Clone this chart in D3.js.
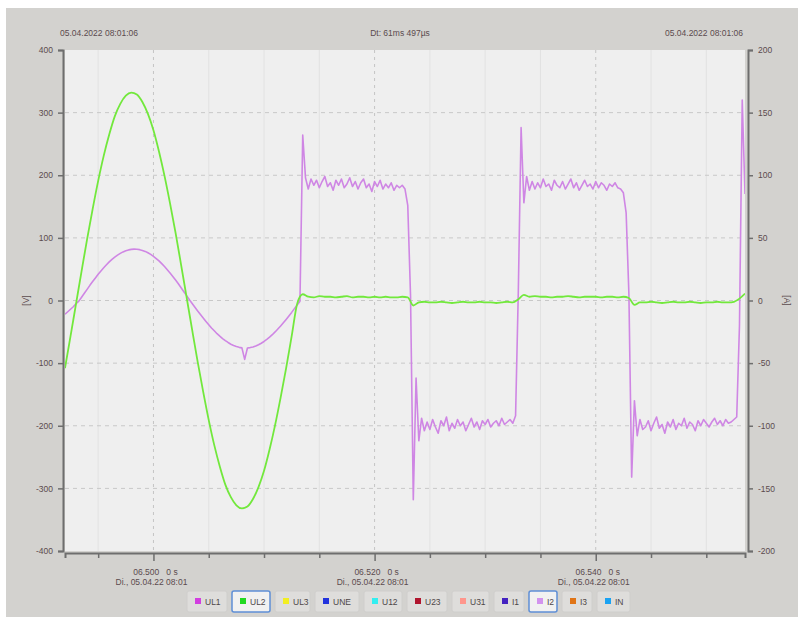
<!DOCTYPE html>
<html>
<head>
<meta charset="utf-8">
<script src="https://cdn.jsdelivr.net/npm/d3@7"></script>
<style>
  body { margin: 0; background: #fff; }
  text { font-family: "Liberation Sans", "DejaVu Sans", sans-serif; }
</style>
</head>
<body>
<svg></svg>
<script>
// recorder samples, times in ms (06.492 s ... 06.5535 s)
const sampleStart = 6492.0;
const ul2Step = 0.5;
const i2Step = 0.25;

// UL2 voltage [V], one value every 0.5 ms
const ul2Values = [
  -108, -57, -5, 47, 98, 146, 191, 231, 265, 294,
  314, 327, 332, 329, 317, 298, 272, 238, 199, 155,
  108, 57, 5, -47, -98, -146, -191, -231, -265, -294,
  -314, -327, -332, -329, -317, -298, -272, -238, -199, -155,
  -108, -57, -5, 10,
  6, 5, 7, 6, 6, 5, 6, 7, 5, 6, 6, 5, 6, 5, 6, 5, 5, 6,
  5, -8,
  -3, -2, -3, -3, -2, -3, -4, -3, -2, -3, -3, -2, -3, -3, -4, -3, -2, -3,
  2, 9,
  6, 7, 6, 6, 5, 6, 6, 7, 6, 5, 6, 6, 6, 5, 6, 6, 5, 6,
  4, -7,
  -3, -3, -2, -3, -4, -3, -2, -3, -3, -2, -3, -4, -3, -3, -2, -3, -3, -2,
  3, 11
];

// I2 current [A], one value every 0.25 ms
const i2Values = [
  -11, -9, -7, -5, -2.5, -0.5, 2.6, 5.8, 8.9, 12.1,
  15.1, 18.0, 20.9, 23.6, 26.1, 28.5, 30.8, 32.8, 34.6, 36.2,
  37.6, 38.8, 39.7, 40.4, 40.8, 41.0, 40.9, 40.6, 40.0, 39.2,
  38.1, 36.8, 35.3, 33.5, 31.6, 29.4, 27.1, 24.6, 22.0, 19.2,
  16.3, 13.3, 10.2, 7.0, 3.9, 0.6, -2.4, -5.4, -8.3, -11.2,
  -14.0, -16.7, -19.3, -21.9, -24.2, -26.5, -28.5, -30.4, -32.0, -33.5,
  -34.9, -36.0, -36.8, -37.4, -37.8, -47, -37.9, -37.6, -37.1, -36.3,
  -35.3, -34.1, -32.7, -31.1, -29.3, -27.3, -25.1, -22.8, -20.4, -17.8,
  -15.1, -12.3, -9.5, -6.5, -3.6, -0.6, 132, 98, 89, 97,
  92, 96, 90, 95, 99, 91, 94, 88, 96, 92,
  97, 90, 93, 98, 91, 95, 89, 94, 97, 90,
  93, 87, 95, 91, 96, 89, 93, 90, 94, 88,
  92, 90, 92, 89, 76, 4, -159, -62, -112, -94,
  -104, -97, -103, -95, -101, -106, -96, -100, -93, -104,
  -98, -102, -95, -100, -97, -104, -99, -94, -101, -97,
  -103, -96, -99, -95, -101, -98, -96, -100, -94, -99,
  -97, -95, -98, -92, 8, 138, 78, 99, 88, 95,
  89, 94, 90, 97, 91, 93, 88, 96, 92, 90,
  95, 89, 93, 97, 90, 94, 88, 92, 96, 91,
  93, 89, 95, 90, 94, 92, 88, 93, 91, 94,
  90, 89, 86, 70, 5, -141, -80, -108, -95, -103,
  -101, -96, -104, -98, -93, -102, -99, -106, -97, -101,
  -95, -103, -98, -100, -94, -102, -97, -99, -104, -96,
  -100, -95, -98, -101, -97, -94, -99, -96, -100, -95,
  -98, -97, -95, -93, -20, 160, 85
];

const leftTicks = [400, 300, 200, 100, 0, -100, -200, -300, -400];
const rightTicks = [200, 150, 100, 50, 0, -50, -100, -150, -200];
const xMajorTicks = [6500, 6520, 6540];
const xMajorLabels = ["06.500   0 s", "06.520   0 s", "06.540   0 s"];
const xDateLabel = "Di., 05.04.22 08:01";
const xMinorTicks = [6495, 6505, 6510, 6515, 6525, 6530, 6535, 6545, 6550];

const headerLeft = "05.04.2022 08:01:06";
const headerCenter = "Dt: 61ms 497µs";
const headerRight = "05.04.2022 08:01:06";

const channels = ["UL1", "UL2", "UL3", "UNE", "U12", "U23", "U31", "I1", "I2", "I3", "IN"];
const channelColors = ["#d23ee0", "#22d922", "#f2ee22", "#2233dd", "#33eef0", "#b0152e", "#ff968c", "#4422c0", "#d293ee", "#e07416", "#1aa2f2"];
const selectedChannels = ["UL2", "I2"];

// ---- layout
const W = 798, H = 617;
const L = 65, R = 745, T = 50, B = 551;

let svg = d3.select("svg")
  .attr("width", W)
  .attr("height", H);

svg.append("rect")
  .attr("x", 6).attr("y", 8)
  .attr("width", W - 6).attr("height", H - 8)
  .attr("fill", "#d3d2cf");

let x = d3.scaleLinear().domain([6492, 6553.5]).range([L, R]);
let yL = d3.scaleLinear().domain([-400, 400]).range([B, T]);
let yR = d3.scaleLinear().domain([-200, 200]).range([B, T]);

// plot background
svg.append("rect")
  .attr("x", L).attr("y", T)
  .attr("width", R - L).attr("height", B - T)
  .attr("fill", "#efefef");

// grid
let grid = svg.append("g").attr("id", "grid");
grid.selectAll("line.minor")
  .data(xMinorTicks)
  .enter().append("line")
  .attr("class", "minor")
  .attr("x1", d => x(d)).attr("x2", d => x(d))
  .attr("y1", T).attr("y2", B)
  .attr("stroke", "#e2e2e2")
  .attr("stroke-width", 1);
grid.selectAll("line.major")
  .data(xMajorTicks)
  .enter().append("line")
  .attr("class", "major")
  .attr("x1", d => x(d)).attr("x2", d => x(d))
  .attr("y1", T).attr("y2", B)
  .attr("stroke", "#c4c4c4")
  .attr("stroke-dasharray", "3,4");
grid.selectAll("line.h")
  .data(leftTicks.filter(d => d !== 400 && d !== -400))
  .enter().append("line")
  .attr("class", "h")
  .attr("x1", L).attr("x2", R)
  .attr("y1", d => yL(d)).attr("y2", d => yL(d))
  .attr("stroke", "#c8c8c8")
  .attr("stroke-dasharray", "4,4");

// traces
svg.append("clipPath").attr("id", "clip")
  .append("rect").attr("x", L).attr("y", T).attr("width", R - L).attr("height", B - T);

let i2Data = i2Values.map((v, i) => ({ t: sampleStart + i * i2Step, v: v }));
let ul2Data = ul2Values.map((v, i) => ({ t: sampleStart + i * ul2Step, v: v }));

let traces = svg.append("g").attr("clip-path", "url(#clip)");
traces.append("path")
  .datum(i2Data)
  .attr("d", d3.line().x(d => x(d.t)).y(d => yR(d.v)))
  .attr("fill", "none")
  .attr("stroke", "#cf86e4")
  .attr("stroke-width", 1.6)
  .attr("stroke-linejoin", "round");
traces.append("path")
  .datum(ul2Data)
  .attr("d", d3.line().curve(d3.curveMonotoneX).x(d => x(d.t)).y(d => yL(d.v)))
  .attr("fill", "none")
  .attr("stroke", "#72e83c")
  .attr("stroke-width", 1.8);

// axes
let axisColor = "#6e6e6e";
let labelColor = "#5b4b4e";

let leftAxis = svg.append("g")
  .attr("transform", `translate(${L - 2},0)`)
  .call(d3.axisLeft(yL).tickValues(leftTicks).tickSize(5).tickPadding(5).tickFormat(d => d));
let rightAxis = svg.append("g")
  .attr("transform", `translate(${R + 3},0)`)
  .call(d3.axisRight(yR).tickValues(rightTicks).tickSize(5).tickPadding(5).tickFormat(d => d));
let bottomAxis = svg.append("g")
  .attr("transform", `translate(0,${B + 2})`)
  .call(d3.axisBottom(x).tickValues(xMajorTicks.concat(xMinorTicks)).tickSize(5).tickFormat(""));

[leftAxis, rightAxis, bottomAxis].forEach(a => {
  a.select(".domain").attr("stroke", axisColor).attr("stroke-width", 2);
  a.selectAll(".tick line").attr("stroke", axisColor).attr("stroke-width", 1.5);
  a.selectAll("text")
    .attr("fill", labelColor)
    .style("font-size", "8.5px")
    .style("font-family", "Liberation Sans, sans-serif");
});
bottomAxis.selectAll(".tick line")
  .attr("y2", d => xMajorTicks.includes(d) ? 8 : 5);

// x labels (two lines)
let xl = svg.append("g").attr("id", "xlabels");
xl.selectAll("text.t1")
  .data(xMajorTicks)
  .enter().append("text")
  .attr("class", "t1")
  .attr("x", (d, i) => x(d) + 2)
  .attr("y", 575)
  .attr("text-anchor", "middle")
  .attr("fill", labelColor)
  .style("font-size", "8.5px")
  .style("white-space", "pre")
  .text((d, i) => xMajorLabels[i]);
xl.selectAll("text.t2")
  .data(xMajorTicks)
  .enter().append("text")
  .attr("class", "t2")
  .attr("x", d => x(d) - 2)
  .attr("y", 585)
  .attr("text-anchor", "middle")
  .attr("fill", labelColor)
  .style("font-size", "8.5px")
  .text(xDateLabel);

// unit labels
svg.append("text")
  .attr("transform", `translate(29,${yL(0)}) rotate(-90)`)
  .attr("text-anchor", "middle")
  .attr("fill", labelColor)
  .style("font-size", "8.5px")
  .text("[V]");
svg.append("text")
  .attr("transform", `translate(784,${yR(0)}) rotate(90)`)
  .attr("text-anchor", "middle")
  .attr("fill", labelColor)
  .style("font-size", "8.5px")
  .text("[A]");

// header
let header = svg.append("g").style("font-size", "8.5px").attr("fill", labelColor);
header.append("text").attr("x", 60).attr("y", 36).text(headerLeft);
header.append("text").attr("x", 400).attr("y", 36).attr("text-anchor", "middle").text(headerCenter);
header.append("text").attr("x", 743).attr("y", 36).attr("text-anchor", "end").text(headerRight);

// channel buttons
let btnWidths = [40, 38, 35, 44, 38, 40, 37, 30, 28, 30, 33];
let btnX = [];
let cx = 187;
btnWidths.forEach(w => { btnX.push(cx); cx += w + 5; });

let legend = svg.append("g").attr("id", "legend")
  .selectAll("g")
  .data(channels)
  .enter().append("g")
  .attr("transform", (d, i) => `translate(${btnX[i]},591)`);
legend.append("rect")
  .attr("width", (d, i) => btnWidths[i])
  .attr("height", 21)
  .attr("rx", 2)
  .attr("fill", d => selectedChannels.includes(d) ? "#f1f1f1" : "#dedddb")
  .attr("stroke", d => selectedChannels.includes(d) ? "#5f8fd6" : "#cfcecc")
  .attr("stroke-width", d => selectedChannels.includes(d) ? 1.5 : 1);
legend.append("rect")
  .attr("x", 8).attr("y", 7)
  .attr("width", 6).attr("height", 6)
  .attr("fill", (d, i) => channelColors[i]);
legend.append("text")
  .attr("x", 18).attr("y", 14)
  .attr("fill", "#4e4848")
  .style("font-size", "8.5px")
  .text(d => d);
</script>
</body>
</html>
